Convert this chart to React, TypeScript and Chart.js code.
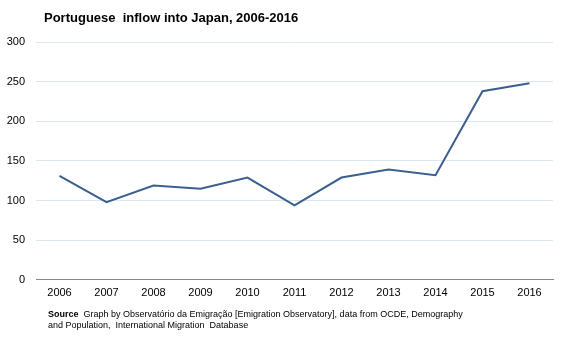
import React, { useEffect, useRef } from "react";
import { Chart, registerables } from "chart.js";

Chart.register(...registerables);

const years = ["2006", "2007", "2008", "2009", "2010", "2011", "2012", "2013", "2014", "2015", "2016"];
const inflow = [131, 98, 119, 115, 129, 94, 129, 139, 132, 238, 248];
const yTicks = [0, 50, 100, 150, 200, 250, 300];
const titleText = "Portuguese  inflow into Japan, 2006-2016";
const sourceLabel = "Source";
const sourceLine1 = "Graph by Observatório da Emigração [Emigration Observatory], data from OCDE, Demography";
const sourceLine2 = "and Population,  International Migration  Database";

const FONT = "'Liberation Sans', Arial, sans-serif";

const textPlugin = {
  id: "texts",
  afterDraw(chart: any) {
    const ctx = chart.ctx;
    ctx.save();
    ctx.fillStyle = "#000";
    ctx.textBaseline = "middle";
    ctx.textAlign = "left";
    ctx.font = `bold 13px ${FONT}`;
    ctx.fillText(titleText, 44, 18);
    ctx.font = `bold 9px ${FONT}`;
    ctx.fillText(sourceLabel, 48, 315);
    const w = ctx.measureText(sourceLabel).width;
    ctx.font = `9px ${FONT}`;
    ctx.fillText(sourceLine1, 48 + w + 5, 315);
    ctx.fillText(sourceLine2, 48, 326);
    ctx.restore();
  },
};

export default function App() {
  const ref = useRef<HTMLCanvasElement>(null);
  useEffect(() => {
    const chart = new Chart(ref.current!, {
      type: "line",
      data: {
        labels: years,
        datasets: [
          {
            data: inflow,
            borderColor: "#3b5f8e",
            borderWidth: 2,
            pointRadius: 0,
            fill: false,
            tension: 0,
          },
        ],
      },
      options: {
        animation: false,
        responsive: false,
        layout: { padding: { left: 0, right: 14, top: 42, bottom: 35 } },
        plugins: { legend: { display: false }, tooltip: { enabled: false }, title: { display: false } },
        scales: {
          x: {
            offset: true,
            grid: { display: false, drawTicks: false },
            border: { display: true, color: "#888888", width: 1 },
            ticks: { color: "#000", font: { family: FONT, size: 11 }, padding: 7, maxRotation: 0 },
          },
          y: {
            min: 0,
            max: 300,
            afterBuildTicks: (scale: any) => {
              scale.ticks = yTicks.map((v) => ({ value: v }));
            },
            afterFit: (scale: any) => {
              scale.width = 36;
            },
            grid: { color: "#dce6f0", drawTicks: false },
            border: { display: false },
            ticks: { color: "#000", font: { family: FONT, size: 11 }, padding: 11 },
          },
        },
      },
      plugins: [textPlugin],
    });
    return () => chart.destroy();
  }, []);
  return (
    <div style={{ position: "fixed", left: 0, top: 0, width: 567, height: 342, background: "#fff" }}>
      <canvas ref={ref} width={567} height={342} style={{ width: 567, height: 342 }} />
    </div>
  );
}
